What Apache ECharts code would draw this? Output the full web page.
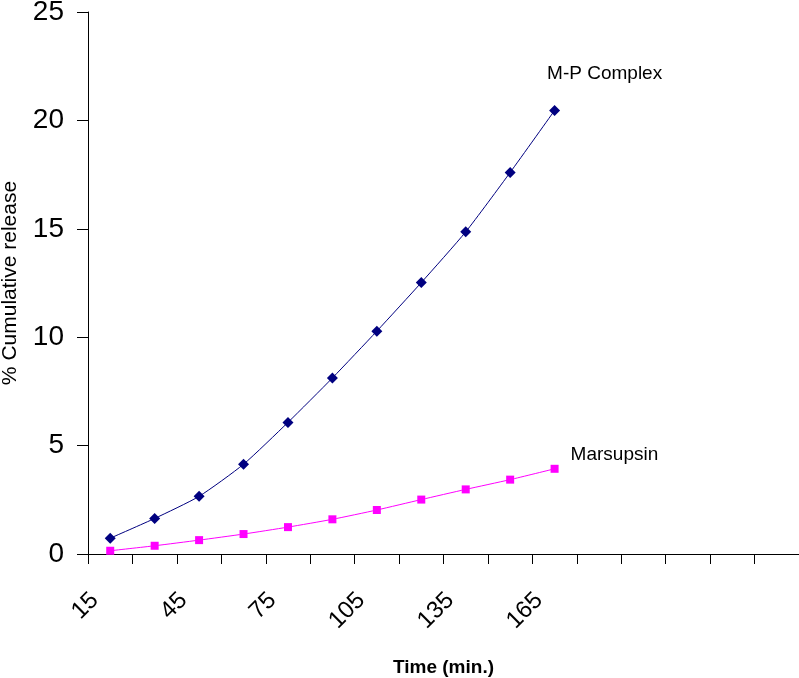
<!DOCTYPE html>
<html>
<head>
<meta charset="utf-8">
<script src="https://cdn.jsdelivr.net/npm/echarts@6/dist/echarts.min.js"></script>
<style>
  html, body { margin: 0; padding: 0; background: #fff; }
  #chart { width: 799px; height: 678px; }
</style>
</head>
<body>
<div id="chart"></div>
<script>
// time points (min.), the last five categories are empty in the original
const categories = ['15', '30', '45', '60', '75', '90', '105', '120', '135', '150', '165', '', '', '', '', ''];
const mpComplex = [0.73, 1.64, 2.66, 4.14, 6.07, 8.12, 10.28, 12.52, 14.86, 17.6, 20.46];
const marsupsin = [0.15, 0.38, 0.64, 0.92, 1.24, 1.6, 2.03, 2.51, 2.98, 3.43, 3.93];
const yTicks = { min: 0, max: 25, step: 5 };

const font = "'Liberation Sans', Arial, sans-serif";

// put the series name beside its last point
const withEndLabel = (values, name, offset) =>
  values.map((v, i) => i === values.length - 1
    ? {
        value: v,
        label: {
          show: true,
          position: 'right',
          offset,
          formatter: name,
          color: '#000',
          fontSize: 19,
          fontFamily: font,
        },
      }
    : v);

const chart = echarts.init(document.getElementById('chart'), null, { renderer: 'canvas' });

chart.setOption({
  backgroundColor: '#fff',
  animation: false,
  grid: { left: 88, right: 0, top: 12, bottom: 124, outerBoundsMode: 'none' },
  xAxis: {
    type: 'category',
    data: categories,
    boundaryGap: true,
    name: 'Time (min.)',
    nameLocation: 'middle',
    nameGap: 104,
    nameTextStyle: { color: '#000', fontSize: 19, fontWeight: 'bold', fontFamily: font },
    axisLine: { lineStyle: { color: '#000', width: 1 } },
    axisTick: { show: true, length: 10, interval: 0, lineStyle: { color: '#000' } },
    axisLabel: {
      interval: 1, rotate: 45, margin: 27, padding: [0, 22, 0, 0],
      color: '#000', fontSize: 24, fontFamily: font,
    },
    splitLine: { show: false },
  },
  yAxis: {
    type: 'value',
    min: yTicks.min,
    max: yTicks.max,
    interval: yTicks.step,
    name: '% Cumulative release',
    nameLocation: 'middle',
    nameGap: 67,
    nameTextStyle: { color: '#000', fontSize: 21, fontFamily: "'Liberation Sans Narrow', " + font },
    axisLine: { show: true, lineStyle: { color: '#000', width: 1 } },
    axisTick: { show: true, length: 11, lineStyle: { color: '#000' } },
    axisLabel: { margin: 24, color: '#000', fontSize: 28, fontFamily: font },
    splitLine: { show: false },
  },
  series: [
    {
      name: 'M-P Complex',
      type: 'line',
      data: withEndLabel(mpComplex, 'M-P Complex', [-18, -37]),
      smooth: 0.2,
      symbol: 'diamond',
      symbolSize: 11,
      itemStyle: { color: '#000080' },
      lineStyle: { color: '#000080', width: 1 },
    },
    {
      name: 'Marsupsin',
      type: 'line',
      data: withEndLabel(marsupsin, 'Marsupsin', [7, -14]),
      smooth: 0.2,
      symbol: 'rect',
      symbolSize: 8,
      itemStyle: { color: '#FF00FF' },
      lineStyle: { color: '#FF00FF', width: 1 },
    },
  ],
});
</script>
</body>
</html>
